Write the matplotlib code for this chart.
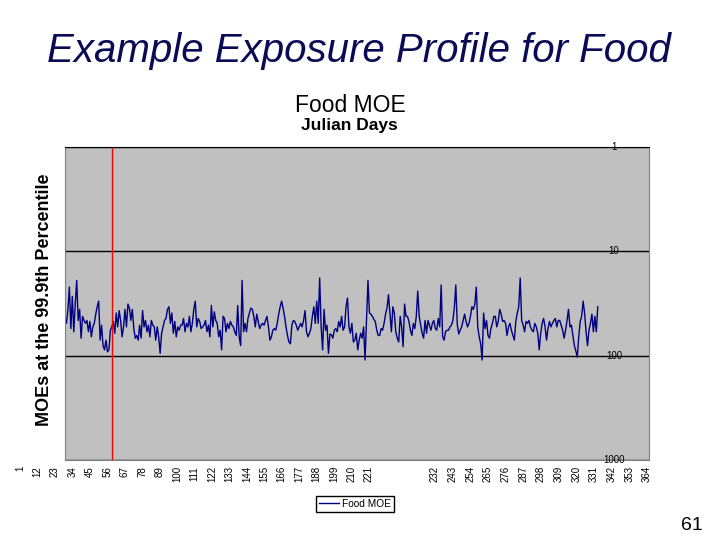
import numpy as np
import matplotlib
matplotlib.use('Agg')
import matplotlib.pyplot as plt
from matplotlib.ticker import NullLocator
import matplotlib.transforms as mtransforms

plt.rcParams['font.family'] = ['Liberation Sans', 'DejaVu Sans']

# daily food MOE values (log axis)
moe = [
    44, 49, 36, 22, 55, 27, 59, 32, 19, 46,
    36, 68, 42, 46, 49, 46, 59, 47, 66, 53,
    49, 40, 34, 30, 71, 51, 80, 88, 71, 92,
    88, 57, 53, 47, 61, 39, 53, 37, 46, 66,
    53, 36, 53, 32, 35, 46, 36, 55, 68, 64,
    71, 51, 68, 37, 53, 46, 59, 51, 66, 46,
    51, 53, 71, 53, 66, 95, 61, 53, 46, 44,
    36, 34, 49, 39, 61, 47, 66, 53, 57, 51,
    51, 44, 59, 49, 53, 42, 59, 49, 36, 30,
    53, 44, 47, 55, 53, 51, 46, 59, 51, 66,
    33, 53, 38, 46, 49, 66, 57, 88, 42, 44,
    59, 49, 55, 47, 51, 53, 59, 64, 33, 66,
    80, 19, 59, 49, 59, 44, 39, 35, 36, 42,
    53, 40, 47, 55, 51, 49, 51, 46, 42, 53,
    71, 66, 57, 55, 57, 49, 40, 34, 30, 35,
    42, 53, 64, 74, 77, 51, 46, 47, 51, 57,
    53, 49, 53, 46, 37, 59, 66, 61, 55, 42,
    34, 49, 30, 49, 18, 53, 88, 36, 57, 51,
    95, 62, 63, 68, 57, 55, 59, 47, 53, 42,
    57, 53, 34, 28, 53, 61, 49, 74, 71, 61,
    88, 71, 61, 68, 53, 110, 47, 19, 39, 40,
    42, 45, 47, 57, 64, 64, 55, 57, 49, 40,
    35, 26, 39, 59, 34, 39, 59, 68, 74, 42,
    53, 82, 32, 42, 42, 47, 57, 64, 49, 55,
    42, 24, 42, 51, 61, 68, 46, 61, 46, 51,
    57, 49, 46, 55, 57, 44, 53, 21, 66, 71,
    59, 57, 57, 53, 51, 46, 35, 21, 50, 62,
    57, 53, 46, 40, 47, 53, 49, 42, 34, 36,
    32, 22, 53, 66, 77, 110, 39, 55, 46, 64,
    68, 55, 49, 42, 42, 53, 47, 36, 40, 47,
    46, 49, 64, 53, 49, 57, 64, 71, 47, 39,
    34, 18, 46, 51, 59, 47, 49, 46, 53, 57,
    59, 49, 53, 61, 88, 61, 49, 44, 53, 71,
    55, 47, 53, 49, 46, 44, 53, 46, 46, 51,
    57, 68, 57, 46, 36, 53, 51, 64, 80, 90,
    103, 66, 47, 42, 30, 39, 59, 80, 57, 49,
    40, 59, 42, 59, 34,
]
days = np.arange(1, len(moe) + 1)

marker_day = 33
y_ticks = [1, 10, 100, 1000]
x_labels_a = [str(d) for d in range(1, 222, 11)]
x_labels_b = [str(d) for d in range(232, 365, 11)]

W, H = 720, 540
fig = plt.figure(figsize=(7.2, 5.4), dpi=100)
ax = fig.add_axes([65 / W, 1 - 460 / H, 584 / W, 313 / H])
ax.set_facecolor('#c0c0c0')

ax.plot(days, moe, color='#000080', lw=1, label='Food MOE')
ax.axvline(marker_day, color='red', lw=1)

ax.set_yscale('log')
ax.set_ylim(1000, 1)
ax.set_xlim(1, 400)
ax.set_yticks(y_ticks)
ax.yaxis.set_minor_locator(NullLocator())
ax.tick_params(left=False, labelleft=False, bottom=False, labelbottom=False)
ax.grid(axis='y', color='black', lw=1)
ax.grid(axis='x', visible=False)
for s in ['left', 'right', 'bottom']:
    ax.spines[s].set_color('#808080')
ax.spines['top'].set_color('black')

trans = mtransforms.blended_transform_factory(ax.transAxes, ax.transData)
for v in y_ticks:
    ax.text((614 - 65) / 584, v, str(v), transform=trans, ha='center', va='center',
            fontsize=7, zorder=5)

# category labels under the plot
for i, lab in enumerate(x_labels_a):
    x = 20 + i * (369 - 20) / (len(x_labels_a) - 1)
    fig.text(x / W, 1 - 466 / H, lab, rotation=90, ha='center', va='top', fontsize=7)
for i, lab in enumerate(x_labels_b):
    x = 435 + i * (647 - 435) / (len(x_labels_b) - 1)
    fig.text(x / W, 1 - 466 / H, lab, rotation=90, ha='center', va='top', fontsize=7)

fig.text(359 / W, 1 - 62 / H, 'Example Exposure Profile for Food', ha='center',
         va='baseline', fontsize=29, style='italic', color='#0b0b55')
fig.text(350 / W, 1 - 111.5 / H, 'Food MOE', ha='center', va='baseline', fontsize=16.5)
fig.text(349 / W, 1 - 130 / H, 'Julian Days', ha='center', va='baseline',
         fontsize=12.5, weight='bold')
fig.text(45 / W, 1 - 300 / H, 'MOEs at the 99.9th Percentile', rotation=90,
         ha='center', va='center', fontsize=13, weight='bold')
fig.text(692 / W, 1 - 530 / H, '61', ha='center', va='baseline', fontsize=14)

leg = ax.legend(loc='center', bbox_to_anchor=(355 / W, 1 - 504 / H),
                bbox_transform=fig.transFigure, fontsize=7.3, frameon=True,
                fancybox=False, edgecolor='black', framealpha=1,
                handlelength=2.0, borderpad=0.3, handletextpad=0.3,
                borderaxespad=0)
leg.get_frame().set_linewidth(1)

fig.savefig('out.png', dpi=100)
